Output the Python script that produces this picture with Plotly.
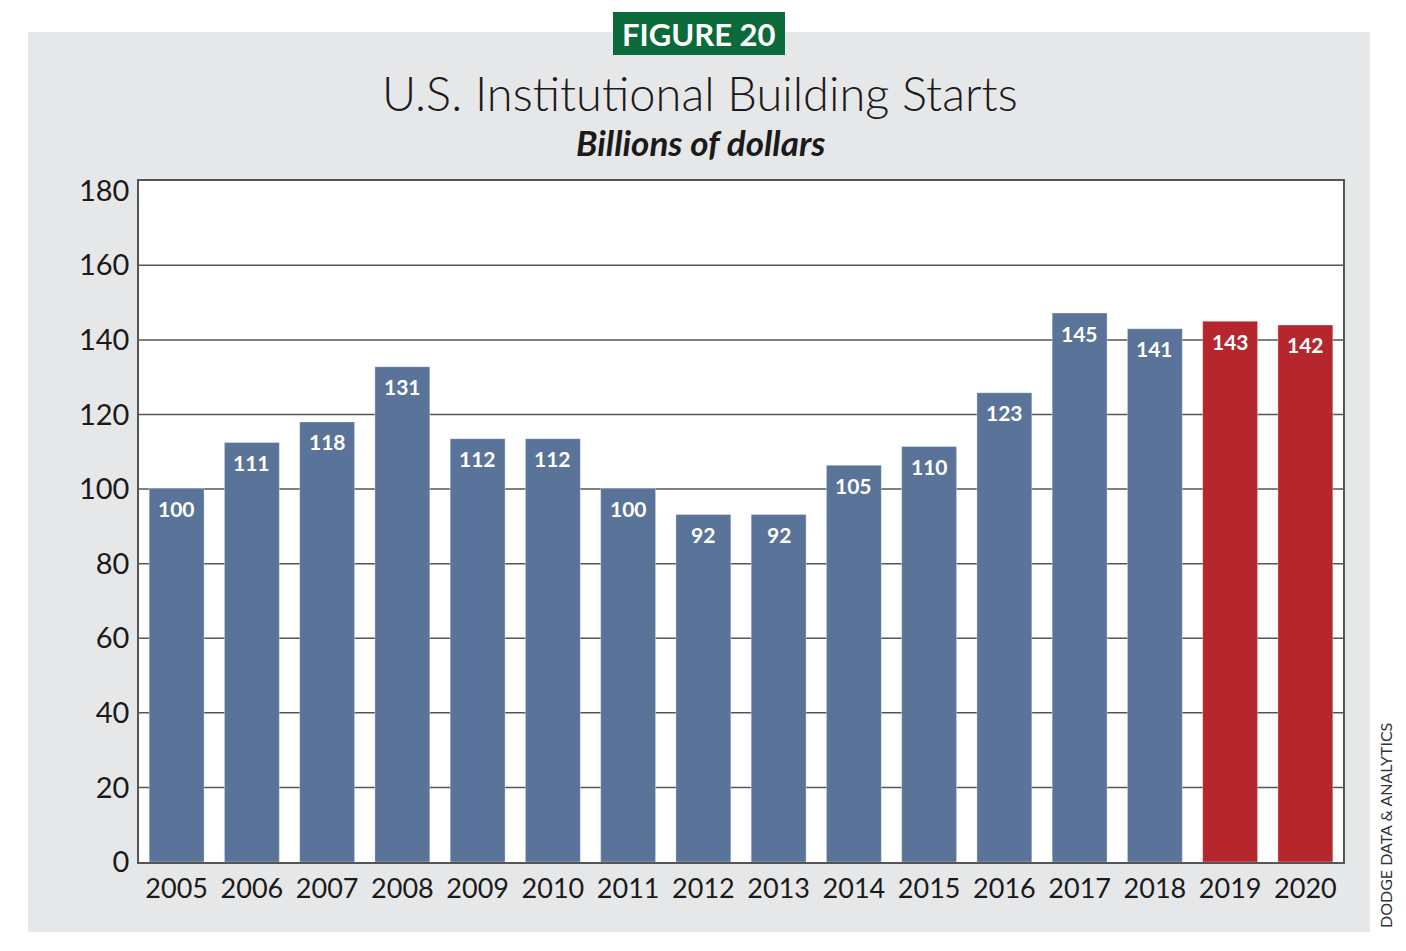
import plotly.graph_objects as go

years = ["2005", "2006", "2007", "2008", "2009", "2010", "2011", "2012",
         "2013", "2014", "2015", "2016", "2017", "2018", "2019", "2020"]
# bar heights as drawn in the picture (billions of dollars)
heights = [100.2, 112.5, 118.0, 132.8, 113.5, 113.5, 100.2, 93.2,
           93.2, 106.4, 111.4, 125.8, 147.2, 143.0, 145.0, 144.0]
# value labels printed on bars
labels = [100, 111, 118, 131, 112, 112, 100, 92,
          92, 105, 110, 123, 145, 141, 143, 142]
colors = ["#5a7399"] * 14 + ["#b5262d"] * 2
y_ticks = [0, 20, 40, 60, 80, 100, 120, 140, 160, 180]
grid_vals = [20, 40, 60, 80, 100, 120, 140, 160]

W, H = 1406, 951
L, R, T, B = 139, 63, 181, 89

xpos = list(range(len(years)))

fig = go.Figure()
fig.add_trace(go.Bar(
    x=xpos, y=heights,
    marker=dict(color=colors, line=dict(color="rgba(255,255,255,0.35)", width=1)),
    hoverinfo="skip",
))

# bar value labels
for xv, hv, lab in zip(xpos, heights, labels):
    fig.add_annotation(x=xv, y=hv, xref="x", yref="y", text=str(lab), showarrow=False,
                       yanchor="middle", yshift=-20,
                       font=dict(family="Lato", size=21, color="white", weight="bold"))


def py(ypix):
    return 1 + (T - ypix) / (H - T - B)


def px(xpix):
    return (xpix - L) / (W - L - R)


shapes = []
# gray panel
shapes.append(dict(type="rect", xref="paper", yref="paper", layer="below",
                   x0=px(28), x1=px(1370), y0=py(932), y1=py(32),
                   fillcolor="#e6e7e8", line=dict(width=0)))
# white plot area
shapes.append(dict(type="rect", xref="paper", yref="paper", layer="below",
                   x0=0, x1=1, y0=0, y1=1, fillcolor="white", line=dict(width=0)))
# gridlines
for g in grid_vals:
    shapes.append(dict(type="line", xref="paper", yref="y", layer="below",
                       x0=0, x1=1, y0=g, y1=g, line=dict(color="#555555", width=1.5)))
# green figure label box
shapes.append(dict(type="rect", xref="paper", yref="paper", layer="above",
                   x0=px(613), x1=px(785), y0=py(55), y1=py(12),
                   fillcolor="#0b6a3a", line=dict(width=0)))
fig.update_layout(shapes=shapes)

fig.add_annotation(xref="paper", yref="paper", x=px(699), y=py(34), text="FIGURE 20",
                   showarrow=False, xanchor="center", yanchor="middle",
                   font=dict(family="Lato", size=31, color="white", weight="bold"))
fig.add_annotation(xref="paper", yref="paper", x=px(700), y=py(93),
                   text="U.S. Institutional Building Starts",
                   showarrow=False, xanchor="center", yanchor="middle",
                   font=dict(family="Lato", size=47, color="#1a1a1a", weight=300))
fig.add_annotation(xref="paper", yref="paper", x=px(700), y=py(142),
                   text="<i>Billions of dollars</i>",
                   showarrow=False, xanchor="center", yanchor="middle",
                   font=dict(family="Lato", size=35, color="#1a1a1a", weight="bold"))
fig.add_annotation(xref="paper", yref="paper", x=px(1385), y=py(826),
                   text="DODGE DATA &amp; ANALYTICS", textangle=-90,
                   showarrow=False, xanchor="center", yanchor="middle",
                   font=dict(family="Lato", size=16, color="#333333"))

fig.update_layout(
    width=W, height=H,
    margin=dict(l=L, r=R, t=T, b=B, pad=0),
    paper_bgcolor="white", plot_bgcolor="rgba(0,0,0,0)",
    bargap=0.27, showlegend=False,
    xaxis=dict(range=[-0.5, len(years) - 0.5], tickvals=xpos, ticktext=years,
               showgrid=False, zeroline=False, ticks="", showline=True, mirror=True,
               linecolor="#555555", linewidth=1.5, ticklabelstandoff=2,
               tickfont=dict(family="Lato", size=27, color="#1a1a1a")),
    yaxis=dict(range=[0, 182.6], tickvals=y_ticks, showgrid=False, zeroline=False,
               showline=True, mirror=True, linecolor="#555555", linewidth=1.5, ticks="",
               ticklabelstandoff=2,
               tickfont=dict(family="Lato", size=29, color="#1a1a1a")),
)

fig.write_html("out.html")
